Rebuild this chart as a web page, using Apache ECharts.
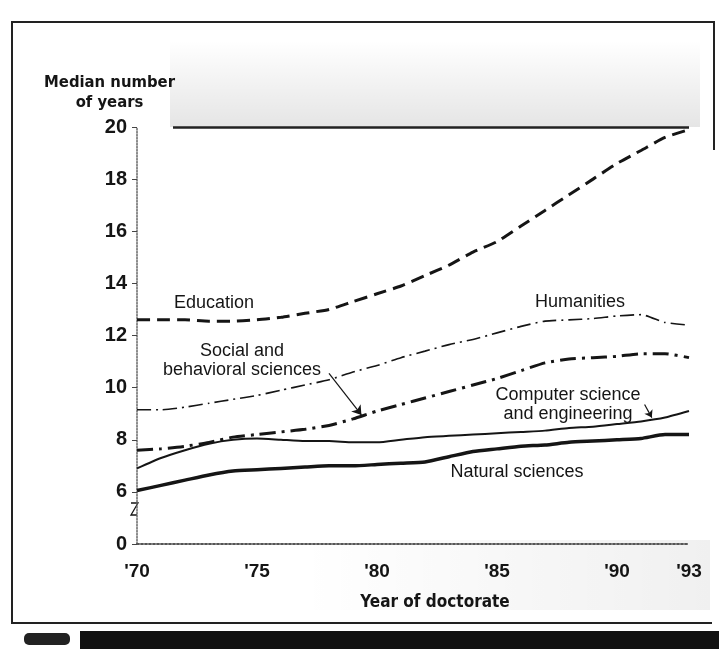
<!DOCTYPE html>
<html>
<head>
<meta charset="utf-8">
<script src="https://cdn.jsdelivr.net/npm/echarts@6/dist/echarts.min.js"></script>
<style>
  html, body { margin: 0; padding: 0; background: #fff; }
  #chart { width: 719px; height: 649px; }
</style>
</head>
<body>
<div id="chart"></div>
<script>
// median years to doctorate, by field
var years = [1970, 1971, 1972, 1973, 1974, 1975, 1976, 1977, 1978, 1979, 1980, 1981,
             1982, 1983, 1984, 1985, 1986, 1987, 1988, 1989, 1990, 1991, 1992, 1993];
var education = [12.6, 12.6, 12.6, 12.55, 12.55, 12.6, 12.7, 12.85, 13.0, 13.3, 13.6, 13.9,
                 14.3, 14.7, 15.2, 15.6, 16.2, 16.8, 17.4, 18.0, 18.6, 19.1, 19.6, 19.9];
var humanities = [9.15, 9.15, 9.25, 9.4, 9.55, 9.7, 9.9, 10.1, 10.3, 10.6, 10.85, 11.15,
                  11.4, 11.65, 11.85, 12.1, 12.35, 12.55, 12.6, 12.65, 12.75, 12.8, 12.5, 12.4];
var social = [7.6, 7.65, 7.75, 7.9, 8.1, 8.2, 8.3, 8.4, 8.55, 8.8, 9.1, 9.35,
              9.6, 9.85, 10.1, 10.35, 10.65, 10.95, 11.1, 11.15, 11.2, 11.3, 11.3, 11.15];
var computer = [6.9, 7.3, 7.6, 7.85, 8.0, 8.05, 8.0, 7.95, 7.95, 7.9, 7.9, 8.0,
                8.1, 8.15, 8.2, 8.25, 8.3, 8.35, 8.45, 8.5, 8.6, 8.7, 8.85, 9.1];
var natural = [6.05, 6.25, 6.45, 6.65, 6.8, 6.85, 6.9, 6.95, 7.0, 7.0, 7.05, 7.1,
               7.15, 7.35, 7.55, 7.65, 7.75, 7.8, 7.9, 7.95, 8.0, 8.05, 8.2, 8.2];
var xTicks = [1970, 1975, 1980, 1985, 1990, 1993];

var ink = '#151515';
var boldFont = "'Liberation Sans Narrow', 'DejaVu Sans Condensed', 'Liberation Sans', sans-serif";
var textFont = "'Liberation Sans', Arial, sans-serif";

function pairs(vals) {
  return years.map(function (y, i) { return [y, vals[i]]; });
}

function lineSeries(name, vals, width, dash) {
  return {
    name: name,
    type: 'line',
    data: pairs(vals),
    symbol: 'none',
    smooth: 0.2,
    lineStyle: { color: ink, width: width, type: dash },
    z: 5
  };
}

var chart = echarts.init(document.getElementById('chart'));

var edu = lineSeries('Education', education, 3, [13, 7]);
// top rule of the plot and the two pointer arrows
edu.markLine = {
  silent: true,
  symbol: 'none',
  label: { show: false },
  data: [
    [{ coord: [1971.5, 20], lineStyle: { color: '#222', width: 2.5, type: 'solid' } },
     { coord: [1993, 20] }],
    [{ coord: [1978.0, 10.55], symbol: 'none', lineStyle: { color: ink, width: 1.2, type: 'solid' } },
     { coord: [1979.35, 8.95], symbol: 'arrow', symbolSize: 9 }],
    [{ coord: [1991.15, 9.35], symbol: 'none', lineStyle: { color: ink, width: 1.2, type: 'solid' } },
     { coord: [1991.45, 8.85], symbol: 'arrow', symbolSize: 7 }]
  ]
};

var option = {
  backgroundColor: '#fff',
  animation: false,
  grid: { left: 137, right: 30, top: 127, bottom: 105 },
  xAxis: {
    type: 'value',
    min: 1970,
    max: 1993,
    name: 'Year of doctorate',
    nameLocation: 'middle',
    nameGap: 50,
    nameTextStyle: { color: ink, fontFamily: boldFont, fontWeight: 'bold', fontSize: 17, padding: [0, 0, 0, 44] },
    axisLine: { show: true, lineStyle: { color: '#555', width: 2, type: 'dotted' } },
    axisTick: { show: false },
    splitLine: { show: false },
    axisLabel: {
      customValues: xTicks,
      margin: 18,
      color: ink,
      fontFamily: textFont,
      fontWeight: 'bold',
      fontSize: 19,
      formatter: function (v) { return "'" + String(v).slice(2); }
    }
  },
  yAxis: {
    type: 'value',
    min: 4,
    max: 20,
    interval: 2,
    name: 'Median number\nof years',
    nameLocation: 'end',
    nameGap: 14,
    nameTextStyle: {
      color: ink, fontFamily: boldFont, fontWeight: 'bold', fontSize: 16.5,
      lineHeight: 20, align: 'center', padding: [0, 55, 0, 0]
    },
    axisLine: { show: true, lineStyle: { color: '#666', width: 1.5, type: 'dotted' } },
    axisTick: { show: true, length: 5, lineStyle: { color: '#444' } },
    splitLine: { show: false },
    axisLabel: {
      margin: 10,
      color: ink,
      fontFamily: textFont,
      fontWeight: 'bold',
      fontSize: 20,
      // broken axis: the bottom tick stands for zero
      formatter: function (v) { return v === 4 ? '0' : String(v); }
    }
  },
  graphic: [
    // halftone shading above the plot
    { type: 'rect', z: -1, shape: { x: 170, y: 40, width: 530, height: 87 },
      style: { fill: new echarts.graphic.LinearGradient(0, 0, 0, 1, [
        { offset: 0, color: 'rgba(0,0,0,0)' }, { offset: 1, color: 'rgba(0,0,0,0.1)' }]) } },
    { type: 'rect', z: -1, shape: { x: 300, y: 540, width: 410, height: 70 },
      style: { fill: new echarts.graphic.LinearGradient(0, 0, 1, 0, [
        { offset: 0, color: 'rgba(0,0,0,0)' }, { offset: 1, color: 'rgba(0,0,0,0.06)' }]) } },
    // page frame and dark strip of the scan
    { type: 'polyline', z: -1, shape: { points: [[714, 150], [714, 22], [12, 22], [12, 623], [712, 623]] },
      style: { stroke: '#222', lineWidth: 2, fill: null } },
    { type: 'rect', shape: { x: 80, y: 631, width: 639, height: 18 }, style: { fill: '#111' } },
    { type: 'rect', shape: { x: 24, y: 633, width: 46, height: 12, r: 5 }, style: { fill: '#222' } },
    // axis break mark
    { type: 'polyline', shape: { points: [[131, 503], [138, 503], [131, 515], [137, 515]] },
      style: { stroke: ink, lineWidth: 1.3, fill: null } },
    // series labels
    { type: 'text', style: { text: 'Education', x: 214, y: 303, align: 'center', verticalAlign: 'middle',
      font: '18px ' + textFont, fill: ink } },
    { type: 'text', style: { text: 'Humanities', x: 580, y: 302, align: 'center', verticalAlign: 'middle',
      font: '18px ' + textFont, fill: ink } },
    { type: 'text', style: { text: 'Social and\nbehavioral sciences', x: 242, y: 361, align: 'center',
      verticalAlign: 'middle', lineHeight: 19, font: '18px ' + textFont, fill: ink } },
    { type: 'text', style: { text: 'Computer science\nand engineering', x: 568, y: 405, align: 'center',
      verticalAlign: 'middle', lineHeight: 19, font: '18px ' + textFont, fill: ink } },
    { type: 'text', style: { text: 'Natural sciences', x: 517, y: 472, align: 'center', verticalAlign: 'middle',
      font: '18px ' + textFont, fill: ink } }
  ],
  series: [
    edu,
    lineSeries('Humanities', humanities, 1.6, [14, 5, 2, 5]),
    lineSeries('Social and behavioral sciences', social, 3, [16, 6, 3, 6]),
    lineSeries('Computer science and engineering', computer, 2),
    lineSeries('Natural sciences', natural, 3.5)
  ]
};

chart.setOption(option);
</script>
</body>
</html>
